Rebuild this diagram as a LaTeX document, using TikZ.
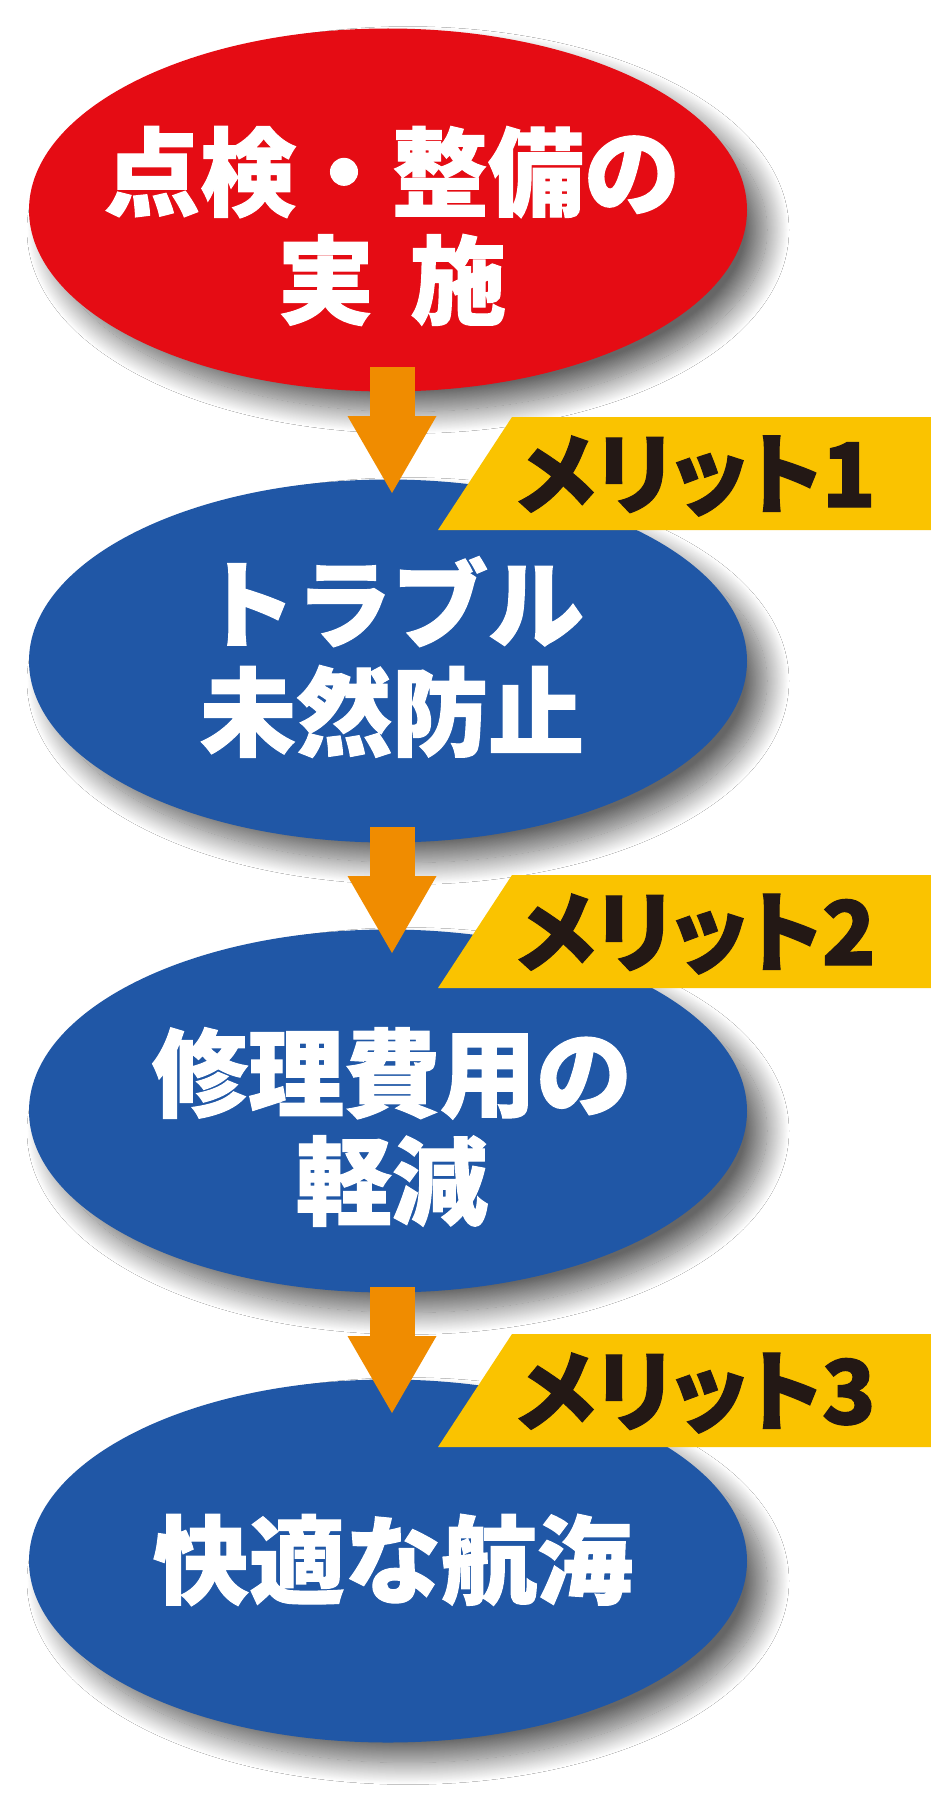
\documentclass[tikz,border=0pt]{standalone}
\usepackage{fontspec}
\newfontfamily\jpfont{Noto Sans CJK JP}[BoldFeatures={FakeBold=1.2}]
\newfontfamily\jpprop{Noto Sans CJK JP}[RawFeature=+palt, BoldFeatures={FakeBold=1.2}]
\usepackage{tikz}
\usetikzlibrary{arrows.meta, shapes.geometric, shadows.blur}

\definecolor{checkred}{HTML}{E50C14}
\definecolor{meritblue}{HTML}{2057A6}
\definecolor{flowcol}{HTML}{F08C00}
\definecolor{meritgold}{HTML}{FAC300}
\definecolor{meritink}{HTML}{231815}

\begin{document}
\begin{tikzpicture}[
    x=1pt, y=-1pt,
    oval/.style={ellipse, minimum width=718pt, minimum height=363pt,
      inner sep=0pt, blur shadow={shadow xshift=20pt, shadow yshift=-20pt,
      shadow blur radius=22pt, shadow blur steps=30, shadow opacity=60}},
    bigtext/.style={text=white, align=center,
      font=\jpfont\bfseries\fontsize{96}{108}\selectfont},
    merittext/.style={text=meritink,
      font=\jpprop\bfseries\fontsize{89}{89}\selectfont},
    flow/.style={draw=flowcol, line width=45pt,
      -{Triangle[width=89pt, length=77pt, line width=0pt]}}
  ]
  \useasboundingbox[fill=white] (0,0) rectangle (931,1809);

  % the four steps
  \node[oval, fill=checkred] (check) at (388,210) {};
  \node[oval, fill=meritblue] (trouble) at (388,661) {};
  \node[oval, fill=meritblue] (repair) at (388,1111) {};
  \node[oval, fill=meritblue] (voyage) at (388,1561) {};

  \node[bigtext] (checktxt) at (392,226) {点検・整備の\\実\hspace{0.38em}施};
  \node[bigtext] (troubletxt) at (392,657) {トラブル\\未然防止};
  \node[bigtext] (repairtxt) at (392,1127) {修理費用の\\軽減};
  \node[bigtext] (voyagetxt) at (393,1560) {快適な航海};

  % merit tags
  \foreach \y/\n in {417/1, 875/2, 1334/3} {
    \fill[meritgold] (512,\y) -- (931,\y) -- ++(0,113) -- ++(-493,0) -- cycle;
    \node[merittext] (merit\n) at (696,\y+59) {メリット\n};
  }

  % arrows between the steps
  \foreach \y/\n in {367/1, 827/2, 1287/3} {
    \coordinate (from\n) at (392,\y);
    \coordinate (to\n) at (392,\y+126);
    \draw[flow] (from\n) -- (to\n);
  }
\end{tikzpicture}
\end{document}
